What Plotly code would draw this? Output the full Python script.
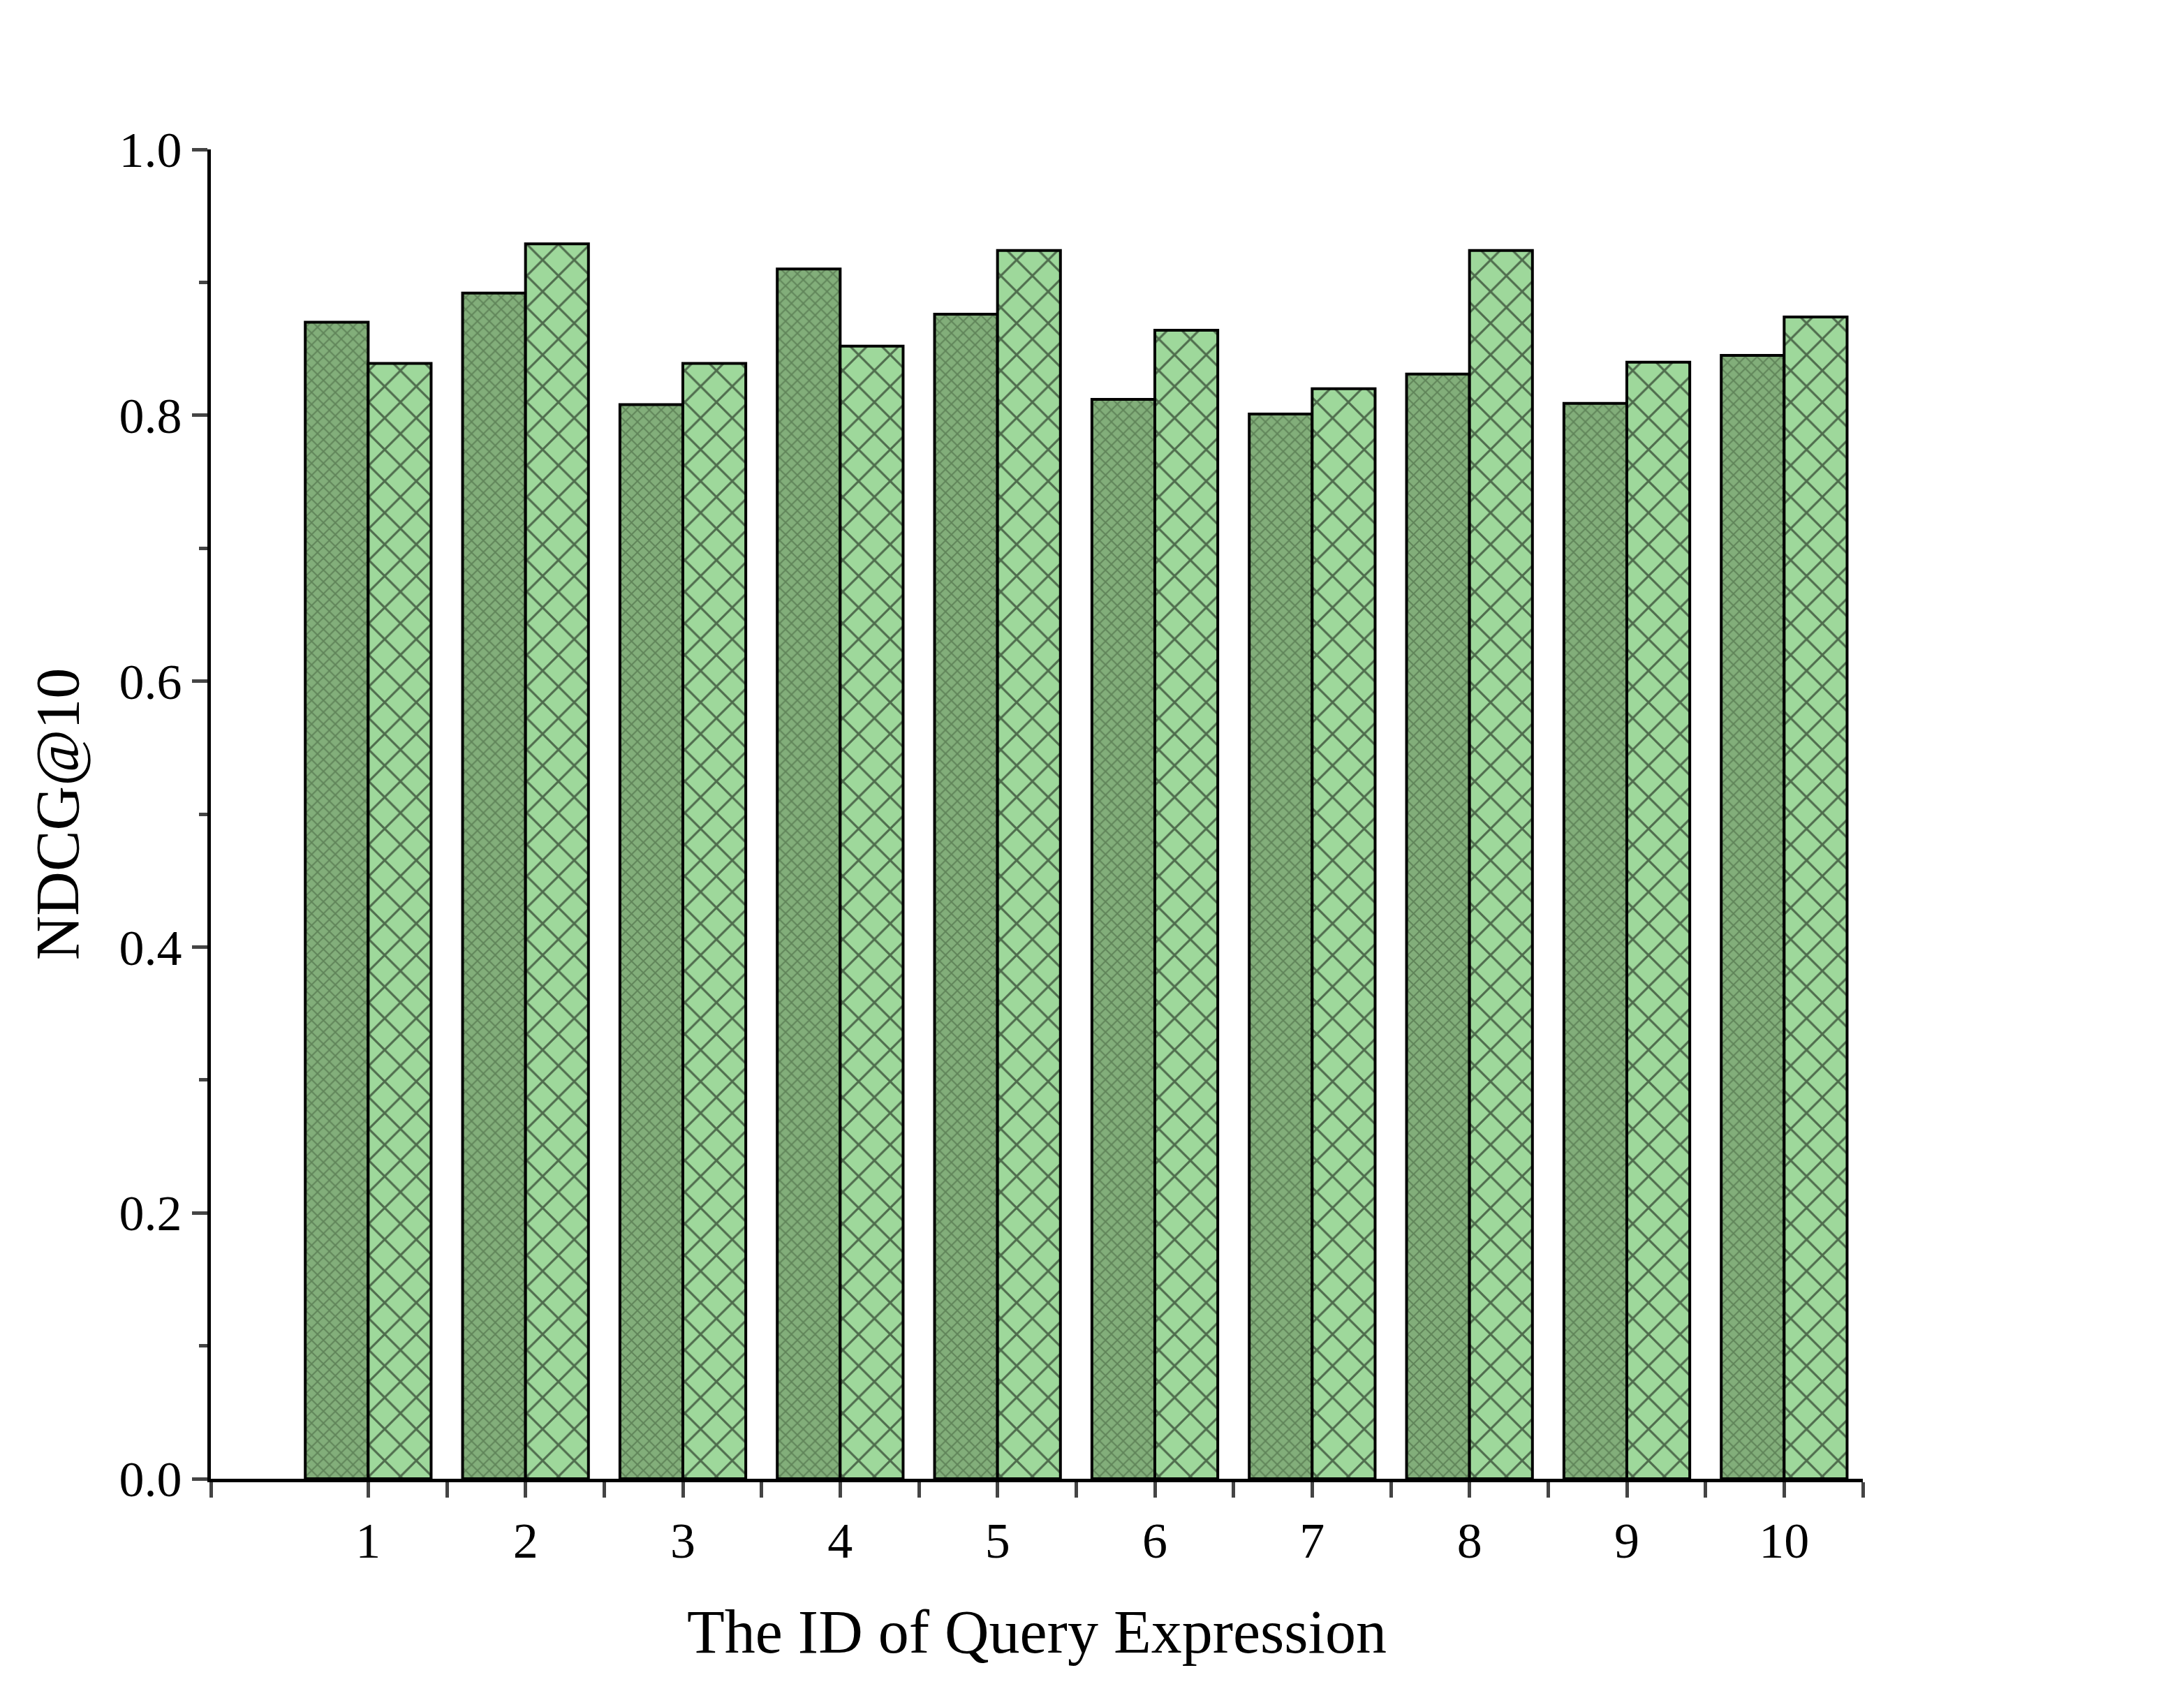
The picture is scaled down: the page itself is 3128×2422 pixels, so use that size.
import plotly.graph_objects as go

ids = [1, 2, 3, 4, 5, 6, 7, 8, 9, 10]
english = [0.870, 0.892, 0.808, 0.910, 0.876, 0.812, 0.801, 0.831, 0.809, 0.845]
chinese = [0.839, 0.929, 0.839, 0.852, 0.924, 0.864, 0.820, 0.924, 0.840, 0.874]

fig = go.Figure()
fig.add_bar(x=ids, y=english, name="English Datasets",
            marker=dict(color="#82ae7a", line=dict(color="black", width=4),
                        pattern=dict(shape="x", fgcolor="#3d5a38", bgcolor="#82ae7a", size=12, solidity=0.3)))
fig.add_bar(x=ids, y=chinese, name="Chinese Datasets",
            marker=dict(color="#9ed89b", line=dict(color="black", width=4),
                        pattern=dict(shape="x", fgcolor="black", bgcolor="#9ed89b", size=32, solidity=0.18)))
font = "Liberation Serif"
fig.update_layout(
    width=3128, height=2422, barmode="group", bargap=0.2, bargroupgap=0,
    plot_bgcolor="white", paper_bgcolor="white",
    margin=dict(l=294, r=468, t=206, b=312, autoexpand=False),
    font=dict(family=font, size=72, color="black"),
    legend=dict(x=0.84, y=1.11, xanchor="left", yanchor="bottom", font=dict(size=88),
                tracegroupgap=0, itemwidth=100),
    showlegend=True,
)
fig.update_xaxes(range=[0, 10.5], tickvals=ids, showline=True, linecolor="black", linewidth=5,
                 ticks="outside", ticklen=22, tickwidth=5, showgrid=False, zeroline=False,
                 minor=dict(tickvals=[0, 1.5, 2.5, 3.5, 4.5, 5.5, 6.5, 7.5, 8.5, 9.5, 10.5], ticks="outside", ticklen=22, tickwidth=5),
                 title=dict(text="The ID of Query Expression", font=dict(size=88), standoff=60),
                 tickfont=dict(size=72))
fig.update_yaxes(range=[0, 1.0], dtick=0.2, tickformat=".1f", showline=True, linecolor="black", linewidth=5,
                 ticks="outside", ticklen=22, tickwidth=5, showgrid=False, zeroline=False,
                 minor=dict(dtick=0.1, ticks="outside", ticklen=12, tickwidth=5),
                 title=dict(text="NDCG@10", font=dict(size=88), standoff=30),
                 tickfont=dict(size=72))
fig.write_html("out.html")
